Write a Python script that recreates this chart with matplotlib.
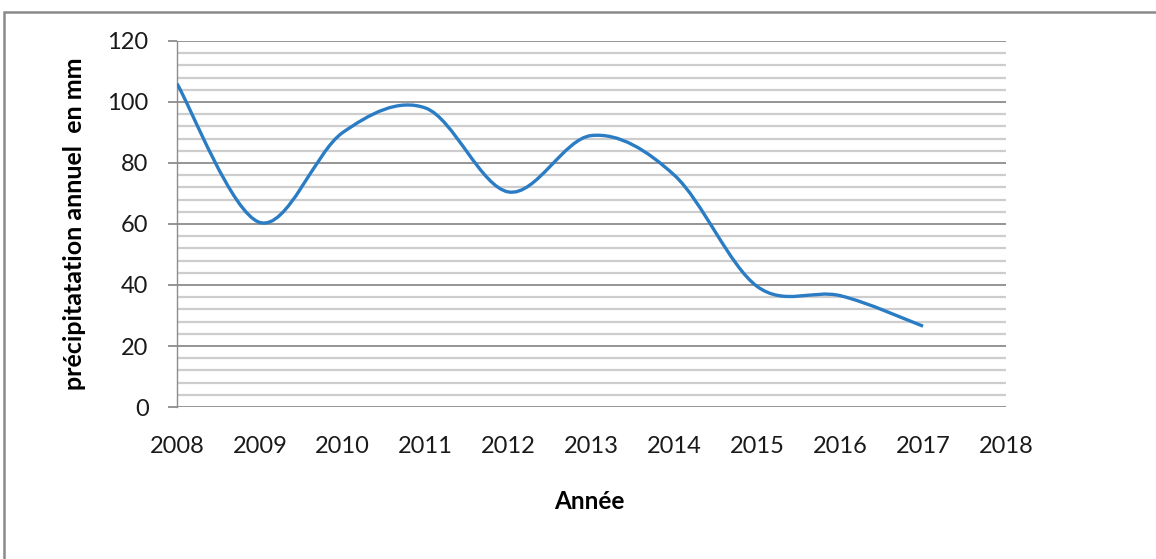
#!/usr/bin/env python3
"""
Annual precipitation curve (Excel-style smoothed line) recreated with matplotlib.
"""

import matplotlib

matplotlib.use('Agg')
import matplotlib.pyplot as plt
from matplotlib.path import Path
from matplotlib.patches import PathPatch, Rectangle
from matplotlib.ticker import MultipleLocator

# Data
years = [2008, 2009, 2010, 2011, 2012, 2013, 2014, 2015, 2016, 2017]
precip = [106, 60.5, 90, 98, 70.5, 89, 76, 39.5, 36.5, 26.5]
x_ticks = list(range(2008, 2019))
y_ticks = [0, 20, 40, 60, 80, 100, 120]

LINE_BLUE = '#2a7cc4'
MAJOR_GRID = '#8c8c8c'
MINOR_GRID = '#cdcdcd'


def smooth_path(xs, ys):
    """Bezier path through the points, like Excel's 'smoothed line'."""
    n = len(xs)
    verts = [(xs[0], ys[0])]
    codes = [Path.MOVETO]
    for i in range(n - 1):
        i0 = max(i - 1, 0)
        i3 = min(i + 2, n - 1)
        c1 = (xs[i] + (xs[i + 1] - xs[i0]) / 6, ys[i] + (ys[i + 1] - ys[i0]) / 6)
        c2 = (xs[i + 1] - (xs[i3] - xs[i]) / 6, ys[i + 1] - (ys[i3] - ys[i]) / 6)
        verts += [c1, c2, (xs[i + 1], ys[i + 1])]
        codes += [Path.CURVE4] * 3
    return Path(verts, codes)


plt.rcParams['font.family'] = ['Lato', 'DejaVu Sans']

fig = plt.figure(figsize=(11.56, 5.59), dpi=100)
ax = fig.add_axes([0.1531, 0.2719, 0.7171, 0.6548])

# outer chart frame (only top and left edges fall inside the picture)
fig.patches.append(Rectangle((0.0035, -0.1), 1.2, 1.0785, transform=fig.transFigure,
                             fill=False, edgecolor='#8a8a8a', linewidth=1.8))

ax.add_patch(PathPatch(smooth_path(years, precip), fill=False,
                       edgecolor=LINE_BLUE, linewidth=2.4, capstyle='butt', zorder=3))

ax.set_xlim(2008, 2018)
ax.set_ylim(0, 120)
ax.set_xticks(x_ticks)
ax.set_yticks(y_ticks)
ax.yaxis.set_minor_locator(MultipleLocator(4))

ax.grid(True, which='major', axis='y', color=MAJOR_GRID, linewidth=1.3)
ax.grid(True, which='minor', axis='y', color=MINOR_GRID, linewidth=1.6)
ax.set_axisbelow(True)

for side in ('top', 'right', 'bottom'):
    ax.spines[side].set_visible(False)
ax.spines['left'].set_color(MAJOR_GRID)
ax.spines['left'].set_linewidth(1.0)

ax.tick_params(axis='x', length=0, pad=21, labelsize=17, colors='#1a1a1a')
ax.tick_params(axis='y', which='major', length=6.5, width=1.3, color=MAJOR_GRID,
               pad=14, labelsize=17, labelcolor='#1a1a1a')
ax.tick_params(axis='y', which='minor', length=0)

ax.set_xlabel('Année', fontsize=17.5, fontweight='bold')
ax.xaxis.set_label_coords(0.498, -0.228)
ax.set_ylabel('précipitatation annuel  en mm', fontsize=18, fontweight='bold')
ax.yaxis.set_label_coords(-0.11, 0.5)

fig.savefig('out.png', dpi=100)
